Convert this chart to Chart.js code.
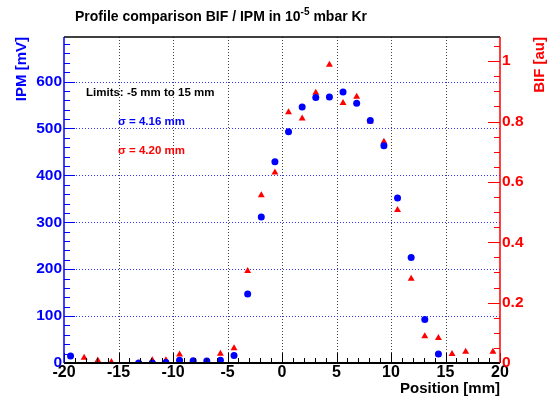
<!DOCTYPE html>
<html>
<head>
<meta charset="utf-8">
<script src="https://cdn.jsdelivr.net/npm/chart.js@4"></script>
<style>
  html, body { margin: 0; padding: 0; background: #fff; }
  #wrap { width: 548px; height: 400px; }
</style>
</head>
<body>
<div id="wrap"><canvas id="profile" width="548" height="400"></canvas></div>
<script>
// positions in mm
var positions = [-19.4, -18.15, -16.9, -15.65, -14.4, -13.15, -11.9, -10.65, -9.4, -8.15, -6.9, -5.65,
  -4.4, -3.15, -1.9, -0.65, 0.6, 1.85, 3.1, 4.35, 5.6, 6.85, 8.1, 9.35, 10.6, 11.85, 13.1, 14.35,
  15.6, 16.85, 18.1, 19.35];
// IPM signal [mV]
var ipmValues = [15, null, null, null, null, 0, 0, 1, 6, 5, 4, 6,
  16, 147, 311, 429, 493, 546, 566, 567, 578, 554, 517, 463, 352, 225, 93, 19,
  null, null, null, null];
// BIF signal [au]
var bifValues = [null, 0.017, 0.008, 0.003, null, null, 0.009, 0.009, 0.028, null, null, 0.031,
  0.049, 0.305, 0.556, 0.631, 0.831, 0.81, 0.895, 0.988, 0.861, 0.882, 0.80, 0.733, 0.507, 0.279, 0.089, 0.083,
  0.03, 0.037, null, 0.037];
var xTicks = [-20, -15, -10, -5, 0, 5, 10, 15, 20];
var ipmTicks = [0, 100, 200, 300, 400, 500, 600];
var bifTicks = [0, 0.2, 0.4, 0.6, 0.8, 1];

function toPoints(vals) {
  var out = [];
  for (var i in positions) {
    if (vals[i] !== null) out.push({x: positions[i], y: vals[i]});
  }
  return out;
}
function fixTicks(list) {
  return function(s) { s.ticks = list.map(function(v) { return {value: v}; }); };
}

var FONT = '"Liberation Sans", Arial, sans-serif';

var decor = {
  id: 'decor',
  beforeDatasetsDraw: function(chart) {
    var c = chart.ctx, a = chart.chartArea;
    var sx = chart.scales.x, sy = chart.scales.yL;
    c.save();
    c.lineWidth = 1;
    c.setLineDash([1, 2]);
    c.strokeStyle = '#444';
    for (var v = -15; v <= 15; v += 5) {
      var px = Math.round(sx.getPixelForValue(v)) + 0.5;
      c.beginPath(); c.moveTo(px, a.top); c.lineTo(px, a.bottom); c.stroke();
    }
    c.strokeStyle = '#3333ff';
    for (var w = 100; w <= 600; w += 100) {
      var py = Math.round(sy.getPixelForValue(w)) + 0.5;
      c.beginPath(); c.moveTo(a.left, py); c.lineTo(a.right, py); c.stroke();
    }
    c.restore();
  },
  afterDatasetsDraw: function(chart) {
    var c = chart.ctx, a = chart.chartArea;
    var sx = chart.scales.x, sl = chart.scales.yL, sr = chart.scales.yR;
    c.save();
    c.setLineDash([]);
    // ticks
    c.lineWidth = 1;
    c.strokeStyle = '#000';
    for (var v = -20; v <= 20; v += 1) {
      var px = Math.round(sx.getPixelForValue(v)) + 0.5;
      var len = (v % 5 === 0) ? 10 : 5;
      c.beginPath(); c.moveTo(px, a.bottom); c.lineTo(px, a.bottom - len); c.stroke();
    }
    c.strokeStyle = '#0000ff';
    for (var w = 0; w <= 680; w += 20) {
      var py = Math.round(sl.getPixelForValue(w)) + 0.5;
      var l2 = (w % 100 === 0) ? 11 : 6;
      c.beginPath(); c.moveTo(a.left, py); c.lineTo(a.left + l2, py); c.stroke();
    }
    c.strokeStyle = '#ff0000';
    for (var k = 0; k <= 21; k++) {
      var py2 = Math.round(sr.getPixelForValue(k * 0.05)) + 0.5;
      var l3 = (k % 4 === 0) ? 12 : 6;
      c.beginPath(); c.moveTo(a.right, py2); c.lineTo(a.right - l3, py2); c.stroke();
    }
    // frame
    c.lineWidth = 1.5;
    c.strokeStyle = '#000';
    c.beginPath(); c.moveTo(a.left, a.top); c.lineTo(a.right, a.top); c.stroke();
    c.lineWidth = 2;
    c.beginPath(); c.moveTo(a.left, a.bottom); c.lineTo(a.right, a.bottom); c.stroke();
    c.lineWidth = 1.5;
    c.strokeStyle = '#0000ff';
    c.beginPath(); c.moveTo(a.left, a.top); c.lineTo(a.left, a.bottom); c.stroke();
    c.strokeStyle = '#ff0000';
    c.beginPath(); c.moveTo(a.right, a.top); c.lineTo(a.right, a.bottom); c.stroke();
    c.restore();
  },
  afterDraw: function(chart) {
    var c = chart.ctx, a = chart.chartArea;
    c.save();
    c.textBaseline = 'alphabetic';
    // title with superscript
    c.fillStyle = '#000';
    c.font = 'bold 14px ' + FONT;
    var t1 = 'Profile comparison BIF / IPM in 10';
    c.fillText(t1, 75, 21);
    var x1 = 75 + c.measureText(t1).width;
    c.font = 'bold 10px ' + FONT;
    c.fillText('-5', x1, 15);
    var x2 = x1 + c.measureText('-5').width;
    c.font = 'bold 14px ' + FONT;
    c.fillText(' mbar Kr', x2, 21);
    // annotations
    c.font = 'bold 11.5px ' + FONT;
    c.fillStyle = '#000';
    c.fillText('Limits: -5 mm to 15 mm', 86, 96);
    c.fillStyle = '#0000ff';
    c.fillText('\u03c3 = 4.16 mm', 118, 125);
    c.fillStyle = '#ff0000';
    c.fillText('\u03c3 = 4.20 mm', 118, 154);
    // axis titles
    c.font = 'bold 15px ' + FONT;
    c.fillStyle = '#000';
    c.textAlign = 'right';
    c.fillText('Position [mm]', a.right, 393);
    c.save();
    c.translate(26, a.top);
    c.rotate(-Math.PI / 2);
    c.fillStyle = '#0000ff';
    c.fillText('IPM [mV]', 0, 0);
    c.restore();
    c.save();
    c.translate(544, a.top);
    c.rotate(-Math.PI / 2);
    c.fillStyle = '#ff0000';
    c.fillText('BIF [au]', 0, 0);
    c.restore();
    c.restore();
  }
};

var ctx = document.getElementById('profile');
var chart = new Chart(ctx, {
  type: 'scatter',
  data: {
    datasets: [
      {
        label: 'IPM',
        data: toPoints(ipmValues),
        yAxisID: 'yL',
        pointStyle: 'circle',
        pointRadius: 3.5,
        backgroundColor: '#0000ff',
        borderColor: '#0000ff',
        borderWidth: 0
      },
      {
        label: 'BIF',
        data: toPoints(bifValues),
        yAxisID: 'yR',
        pointStyle: 'triangle',
        pointRadius: 4,
        backgroundColor: '#ff0000',
        borderColor: '#ff0000',
        borderWidth: 0
      }
    ]
  },
  options: {
    responsive: false,
    maintainAspectRatio: false,
    animation: false,
    devicePixelRatio: 1,
    layout: { padding: { top: 37, left: 0, right: 0, bottom: 0 } },
    plugins: { legend: { display: false }, tooltip: { enabled: false }, title: { display: false } },
    scales: {
      x: {
        type: 'linear', min: -20, max: 20,
        afterBuildTicks: fixTicks(xTicks),
        afterFit: function(s) { s.height = 37; },
        grid: { display: false, drawTicks: false },
        border: { display: false },
        ticks: { color: '#000', padding: 0, maxRotation: 0, autoSkip: false,
          font: { family: FONT, size: 16, weight: 'bold' } }
      },
      yL: {
        type: 'linear', position: 'left', min: 0, max: 695,
        afterBuildTicks: fixTicks(ipmTicks),
        afterFit: function(s) { s.width = 64; },
        grid: { display: false, drawTicks: false },
        border: { display: false },
        ticks: { color: '#0000ff', padding: 2, autoSkip: false,
          font: { family: FONT, size: 15.5, weight: 'bold' } }
      },
      yR: {
        type: 'linear', position: 'right', min: 0, max: 1.08,
        afterBuildTicks: fixTicks(bifTicks),
        afterFit: function(s) { s.width = 48; },
        grid: { display: false, drawTicks: false },
        border: { display: false },
        ticks: { color: '#ff0000', padding: 2, autoSkip: false,
          callback: function(v) { return String(Math.round(v * 10) / 10); },
          font: { family: FONT, size: 15.5, weight: 'bold' } }
      }
    }
  },
  plugins: [decor]
});
</script>
</body>
</html>
